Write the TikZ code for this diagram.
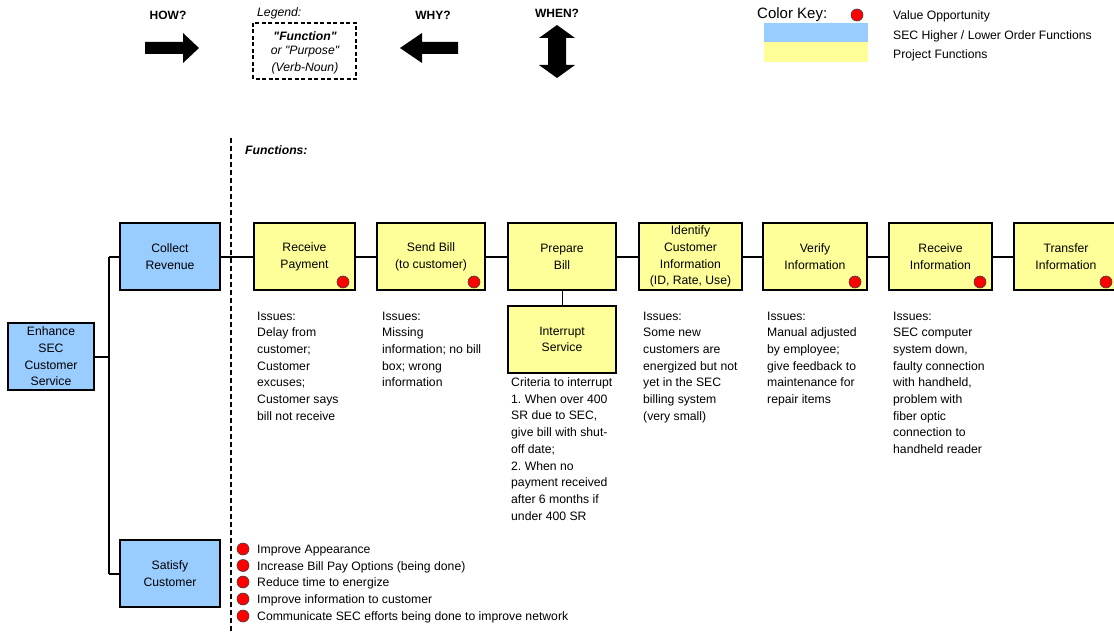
\documentclass[tikz,border=0pt]{standalone}
\usepackage{fontspec}
\setmainfont{Liberation Sans}[Ligatures=TeXOff]
\definecolor{kblue}{HTML}{99CCFF}
\definecolor{kyellow}{HTML}{FFFF99}
\definecolor{kred}{HTML}{FF0000}
\newcommand\myfs{\fontsize{12.2}{16.7}\selectfont}
\frenchspacing
\begin{document}
\begin{tikzpicture}[x=1pt,y=-1pt,
  fbox/.style={draw, line width=2pt, minimum height=67pt, inner sep=0pt, align=center, font=\myfs},
  hbox/.style={fbox, fill=kblue},
  pbox/.style={fbox, fill=kyellow},
  conn/.style={line width=2pt},
  vdot/.style={circle, fill=kred, draw=black!75, line width=0.6pt, minimum size=12pt, inner sep=0pt},
  issue/.style={anchor=north west, inner sep=0pt, align=left, font=\myfs},
  btxt/.style={anchor=base west, inner sep=0pt, font=\myfs},
  hdr/.style={inner sep=0pt, font=\fontsize{12}{14}\selectfont\bfseries}
]
\useasboundingbox (0,0) rectangle (1114,634);

% ---------- top legend ----------
\node[hdr] (how) at (168,15) {HOW?};
\fill (145,42) -- (183,42) -- (183,33) -- (199,48) -- (183,63) -- (183,54) -- (145,54) -- cycle;
\node[inner sep=0pt, anchor=west, font=\myfs\itshape] (leg) at (257,13) {Legend:};
\draw[line width=1.4pt, dash pattern=on 4pt off 2.5pt] (253,23) rectangle (356,79);
\node[inner sep=0pt, font=\myfs\bfseries\itshape] (lf) at (305,36) {"Function"};
\node[inner sep=0pt, font=\myfs\itshape] (lp) at (305,52) {or "Purpose"};
\node[inner sep=0pt, font=\myfs\itshape] (lv) at (305,68) {(Verb-Noun)};
\node[hdr] (why) at (433,15) {WHY?};
\fill (400,48) -- (422,33) -- (422,42) -- (458,42) -- (458,54) -- (422,54) -- (422,63) -- cycle;
\node[hdr] (when) at (557,13) {WHEN?};
\fill (557,25) -- (575,38) -- (566,38) -- (566,65) -- (575,65) -- (557,78) -- (539,65) -- (548,65) -- (548,38) -- (539,38) -- cycle;

% ---------- colour key ----------
\node[inner sep=0pt, anchor=west, font=\fontsize{15}{17}\selectfont] (ck) at (757,15) {Color Key:};
\node[vdot] (ckd) at (857,15) {};
\fill[kblue] (764,23) rectangle (868,42);
\fill[kyellow] (764,42) rectangle (868,62);
\node[btxt] (k1) at (893,19.5) {Value Opportunity};
\node[btxt] (k2) at (893,39.5) {SEC Higher / Lower Order Functions};
\node[btxt] (k3) at (893,58.5) {Project Functions};

% ---------- functions label and scope line ----------
\node[inner sep=0pt, anchor=west, font=\myfs\bfseries\itshape] (fl) at (245,150) {Functions:};
\coordinate (dtop) at (231,138);
\coordinate (dbot) at (231,636);
\draw[line width=2pt, dash pattern=on 5pt off 3pt] (dtop) -- (dbot);

% ---------- function boxes ----------
\node[hbox, minimum width=86pt] (enh) at (51,356.5) {Enhance\\SEC\\Customer\\Service};
\node[hbox, minimum width=100pt] (cr) at (170,256.5) {Collect\\Revenue};
\node[hbox, minimum width=100pt] (sc) at (170,573.5) {Satisfy\\Customer};
\node[pbox, minimum width=101pt] (rp) at (304.5,256.5) {Receive\\Payment};
\node[pbox, minimum width=108pt] (sb) at (431,256.5) {Send Bill\\(to customer)};
\node[pbox, minimum width=108pt] (pb) at (562,256.5) {Prepare\\Bill};
\node[pbox, minimum width=108pt] (is) at (562,339.5) {Interrupt\\Service};
\node[pbox, minimum width=103pt] (ic) at (690.5,256.5) {Identify\\Customer\\Information\\(ID, Rate, Use)};
\node[pbox, minimum width=104pt] (vi) at (815,256.5) {Verify\\Information};
\node[pbox, minimum width=103pt] (ri) at (940.5,256.5) {Receive\\Information};
\node[pbox, minimum width=104pt] (ti) at (1066,256.5) {Transfer\\Information};

% value-opportunity dots
\node[vdot] (d1) at (343,282) {};
\node[vdot] (d2) at (474,282) {};
\node[vdot] (d3) at (855,282) {};
\node[vdot] (d4) at (980,282) {};
\node[vdot] (d5) at (1106,282) {};

% ---------- connectors ----------
\coordinate (t1) at (108.5,256.5);
\coordinate (t2) at (108.5,573.5);
\draw[conn] (enh.east) -- (enh.east -| t1);
\draw[conn] (t1) -- (t2);
\draw[conn] (t1) -- (cr.west);
\draw[conn] (t2) -- (sc.west);
\draw[conn] (cr.east) -- (rp.west);
\draw[conn] (rp.east) -- (sb.west);
\draw[conn] (sb.east) -- (pb.west);
\draw[conn] (pb.east) -- (ic.west);
\draw[conn] (ic.east) -- (vi.west);
\draw[conn] (vi.east) -- (ri.west);
\draw[conn] (ri.east) -- (ti.west);
\draw[line width=1pt] (pb.south) -- (is.north);

% ---------- issue texts ----------
\node[issue] (i1) at (257,311.5) {Issues:\\Delay from\\customer;\\Customer\\excuses;\\Customer says\\bill not receive};
\node[issue] (i2) at (382,311.5) {Issues:\\Missing\\information; no bill\\box; wrong\\information};
\node[issue] (i3) at (511,377.5) {Criteria to interrupt\\1. When over 400\\SR due to SEC,\\give bill with shut-\\off date;\\2. When no\\payment received\\after 6 months if\\under 400 SR};
\node[issue] (i4) at (643,311.5) {Issues:\\Some new\\customers are\\energized but not\\yet in the SEC\\billing system\\(very small)};
\node[issue] (i5) at (767,311.5) {Issues:\\Manual adjusted\\by employee;\\give feedback to\\maintenance for\\repair items};
\node[issue] (i6) at (893,311.5) {Issues:\\SEC computer\\system down,\\faulty connection\\with handheld,\\problem with\\fiber optic\\connection to\\handheld reader};

% ---------- satisfy customer opportunities ----------
\node[vdot] (b1) at (243,549) {};
\node[vdot] (b2) at (243,565.5) {};
\node[vdot] (b3) at (243,582) {};
\node[vdot] (b4) at (243,599) {};
\node[vdot] (b5) at (243,616) {};
\node[btxt] (o1) at (257,553.5) {Improve Appearance};
\node[btxt] (o2) at (257,570) {Increase Bill Pay Options (being done)};
\node[btxt] (o3) at (257,586.5) {Reduce time to energize};
\node[btxt] (o4) at (257,603.5) {Improve information to customer};
\node[btxt] (o5) at (257,620.5) {Communicate SEC efforts being done to improve network};
\end{tikzpicture}
\end{document}
